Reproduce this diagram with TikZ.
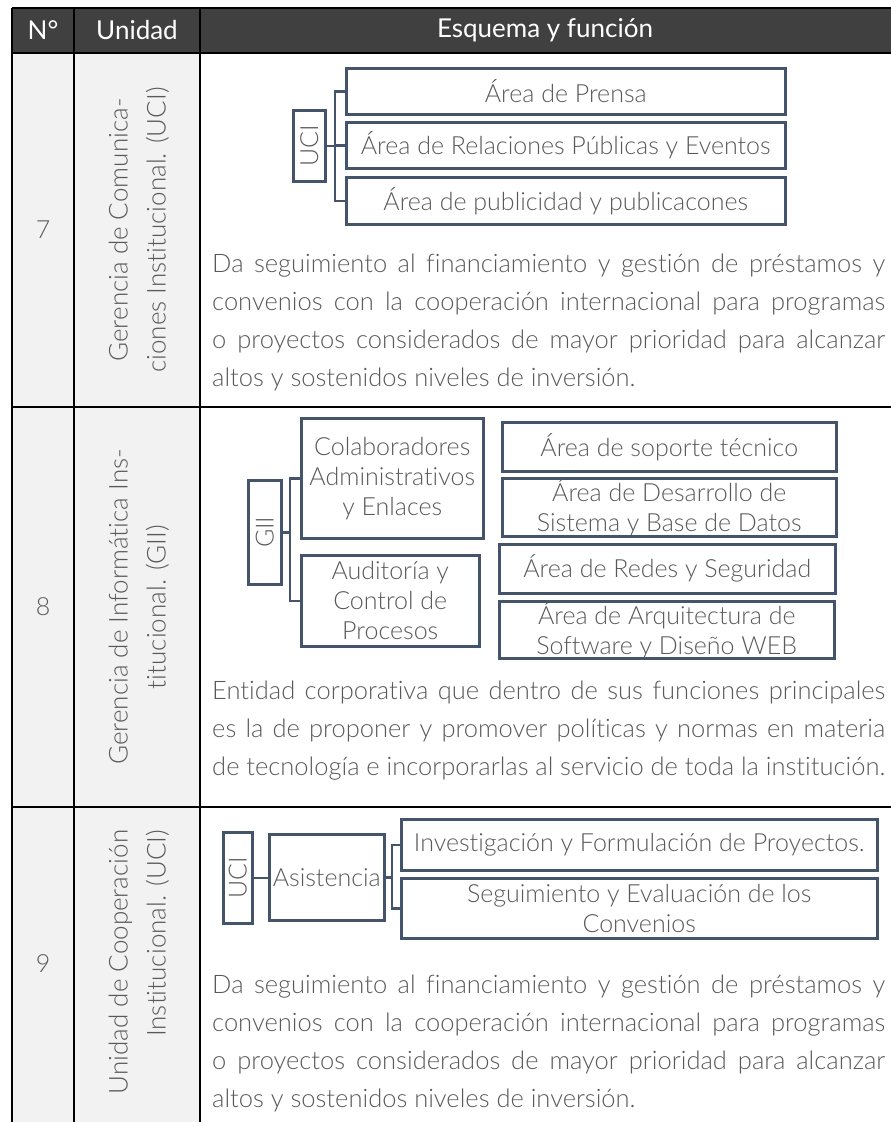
\documentclass[tikz,border=0pt]{standalone}
\usepackage{fontspec}
\usepackage{graphicx}
\IfFontExistsTF{Lato Light}{\setmainfont{Lato Light}[Ligatures=NoCommon]}{\setmainfont{Lato}[Ligatures=NoCommon]}
\newfontfamily\latonormal{Lato}
\definecolor{cabecera}{HTML}{404040}
\definecolor{celda}{HTML}{F2F2F2}
\definecolor{pizarra}{HTML}{44546A}
\definecolor{gristexto}{HTML}{595959}
\newcommand\cajatexto[3]{\parbox[c][#2][c]{#1}{\centering\fontsize{25}{30}\selectfont #3}}
\begin{document}
\begin{tikzpicture}[x=1pt, y=-1pt,
    tabla/.style = {line width=2pt, black},
    area/.style = {draw=pizarra, line width=2.5pt, inner sep=0pt, text=gristexto, anchor=north west},
    linea/.style = {draw=pizarra, line width=2.5pt},
    titulo/.style = {text=white, font=\latonormal\fontsize{26}{30}\selectfont},
    numero/.style = {text=gristexto, font=\fontsize{25}{30}\selectfont},
    rotado/.style = {rotate=90, align=center, text=gristexto, font=\fontsize{26}{38}\selectfont},
    cuerpo/.style = {anchor=north west, text width=673pt, align=justify, inner sep=0pt,
      text=gristexto, font=\fontsize{25.5}{38}\selectfont}]
  \useasboundingbox (0,0) rectangle (891,1122);
  \fill [cabecera] (12,7.5) rectangle (891,53);
  \fill [celda] (12,53) rectangle (200,1122);
  \foreach \y in {7.5,53,407,807} \draw [tabla] (12,\y) -- (891,\y);
  \foreach \x in {12,74,200} \draw [tabla] (\x,7.5) -- (\x,1122);
  \node [titulo] (h1) at (43,30) {N°};
  \node [titulo] (h2) at (137,30) {Unidad};
  \node [titulo] (h3) at (545,30) {Esquema y función};

  \node [numero] (c7) at (43,230) {7};
  \node [rotado] (n7) at (139,230) {Gerencia de Comunica-\\ciones Institucional. (UCI)};
  \node [area] (u7) at (292,109) {\cajatexto{32pt}{71pt}{\rotatebox{90}{UCI}}};
  \node [area] (p1) at (345,67) {\cajatexto{439pt}{46pt}{Área de Prensa}};
  \node [area] (p2) at (345,121) {\cajatexto{439pt}{46pt}{Área de Relaciones Públicas y Eventos}};
  \node [area] (p3) at (345,176) {\cajatexto{439pt}{47pt}{Área de publicidad y publicacones}};
  \coordinate (k7) at (335,0);
  \draw [linea] (u7.east) -- (u7.east -| k7);
  \draw [linea] (p1.west) -- (p1.west -| k7) -- (p3.west -| k7) -- (p3.west);
  \draw [linea] (p2.west) -- (p2.west -| k7);
  \node [cuerpo] (f7) at (212,254) {Da seguimiento al financiamiento y gestión de préstamos y\linebreak
    convenios con la cooperación internacional para programas\linebreak
    o proyectos considerados de mayor prioridad para alcanzar\linebreak
    altos y sostenidos niveles de inversión.};

  \node [numero] (c8) at (43,607) {8};
  \node [rotado] (n8) at (139,607) {Gerencia de Informática Ins-\\titucional. (GII)};
  \node [area] (g8) at (247,479) {\cajatexto{33pt}{104pt}{\rotatebox{90}{GII}}};
  \node [area] (b8) at (300,417) {\cajatexto{182pt}{120pt}{Colaboradores\\Administrativos\\y Enlaces}};
  \node [area] (a8) at (300,554) {\cajatexto{178pt}{91pt}{Auditoría y\\Control de\\Procesos}};
  \node [area] (r1) at (501,421) {\cajatexto{334pt}{49pt}{Área de soporte técnico}};
  \node [area] (r2) at (501,477) {\cajatexto{334pt}{58pt}{Área de Desarrollo de\\Sistema y Base de Datos}};
  \node [area] (r3) at (498,543) {\cajatexto{336pt}{49pt}{Área de Redes y Seguridad}};
  \node [area] (r4) at (498,600) {\cajatexto{335pt}{57pt}{Área de Arquitectura de\\Software y Diseño WEB}};
  \coordinate (k8) at (290,0);
  \draw [linea] (g8.east) -- (g8.east -| k8);
  \draw [linea] (b8.west) -- (b8.west -| k8) -- (a8.west -| k8) -- (a8.west);
  \node [cuerpo] (f8) at (212,681) {Entidad corporativa que dentro de sus funciones principales\linebreak
    es la de proponer y promover políticas y normas en materia\linebreak
    de tecnología e incorporarlas al servicio de toda la institución.};

  \node [numero] (c9) at (43,964) {9};
  \node [rotado, align=right] (n9) at (139,962) {Unidad de Cooperación\\Institucional. (UCI)};
  \node [area] (u9) at (222,831) {\cajatexto{29pt}{91pt}{\rotatebox{90}{UCI}}};
  \node [area] (s9) at (268,833) {\cajatexto{115pt}{86pt}{Asistencia}};
  \node [area] (i9) at (400,818) {\cajatexto{476pt}{51pt}{Investigación y Formulación de Proyectos.}};
  \node [area] (e9) at (400,877) {\cajatexto{476pt}{60pt}{Seguimiento y Evaluación de los\\Convenios}};
  \coordinate (k9) at (392,0);
  \draw [linea] (u9.east) -- (u9.east -| s9.west);
  \draw [linea] (s9.east) -- (s9.east -| k9);
  \draw [linea] (i9.west) -- (i9.west -| k9) -- (e9.west -| k9) -- (e9.west);
  \node [cuerpo] (f9) at (212,975) {Da seguimiento al financiamiento y gestión de préstamos y\linebreak
    convenios con la cooperación internacional para programas\linebreak
    o proyectos considerados de mayor prioridad para alcanzar\linebreak
    altos y sostenidos niveles de inversión.};
\end{tikzpicture}
\end{document}
